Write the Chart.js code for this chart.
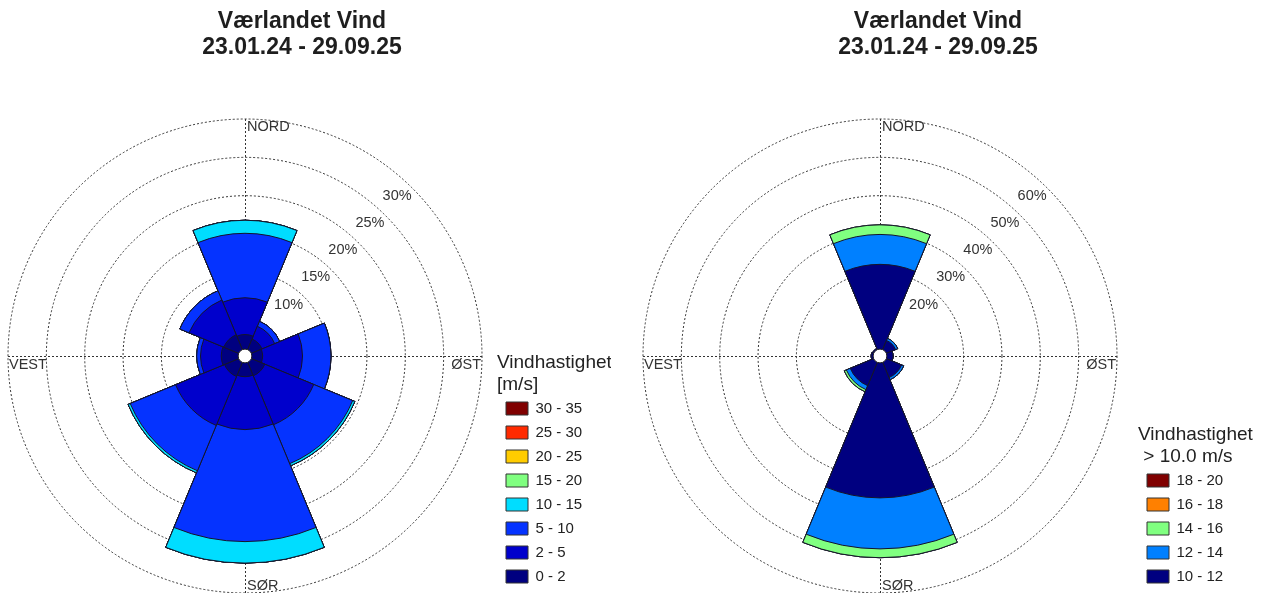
<!DOCTYPE html>
<html>
<head>
<meta charset="utf-8">
<script src="https://cdn.jsdelivr.net/npm/chart.js"></script>
<style>
  html, body { margin: 0; padding: 0; background: #fff; overflow: hidden; }
  body { width: 1267px; height: 593px; position: relative; }
  canvas { position: absolute; top: 0; }
  #roseAll { left: -7px; }
  #roseHigh { left: 622px; }
</style>
</head>
<body>
<canvas id="roseAll" width="630" height="593"></canvas>
<canvas id="roseHigh" width="645" height="593"></canvas>
<script>
const directions = ['N', 'NØ', 'Ø', 'SØ', 'S', 'SV', 'V', 'NV'];
const compass = ['NORD', 'ØST', 'SØR', 'VEST'];
const chartTitle = ['Værlandet Vind', '23.01.24 - 29.09.25'];

// left rose: all winds, % of time per direction and speed class
const allClasses = ['0 - 2', '2 - 5', '5 - 10', '10 - 15', '15 - 20', '20 - 25', '25 - 30', '30 - 35'];
const all0to2   = [1.9, 1.5, 1.4, 1.9, 1.8, 2.0, 2.2, 2.1];
const all2to5   = [4.8, 1.8, 5.2, 6.9, 6.9, 6.9, 2.7, 4.9];
const all5to10  = [8.4, 0.7, 3.7, 5.5, 14.6, 6.4, 0.5, 1.3];
const all10to15 = [1.7, 0, 0, 0.3, 2.8, 0.3, 0, 0];
const all15to20 = [0, 0, 0, 0, 0, 0, 0, 0];
const all20to25 = [0, 0, 0, 0, 0, 0, 0, 0];
const all25to30 = [0, 0, 0, 0, 0, 0, 0, 0];
const all30to35 = [0, 0, 0, 0, 0, 0, 0, 0];
const allTicks = [10, 15, 20, 25, 30];

// right rose: only wind above 10 m/s
const highClasses = ['10 - 12', '12 - 14', '14 - 16', '16 - 18', '18 - 20'];
const high10to12 = [22.1, 2.6, 1.6, 4.3, 35.2, 6.6, 0.5, 0.3];
const high12to14 = [7.8, 0.6, 0, 0.6, 13.3, 1.1, 0, 0];
const high14to16 = [2.5, 0, 0, 0, 2.3, 0.6, 0, 0];
const high16to18 = [0, 0, 0, 0, 0, 0, 0, 0];
const high18to20 = [0, 0, 0, 0, 0, 0, 0, 0];
const highTicks = [20, 30, 40, 50, 60];

const allColors = ['#000080', '#0000CC', '#0533FF', '#00DDFF', '#80FF80', '#FFCC00', '#FF2A00', '#800000'];
const highColors = ['#000080', '#0080FF', '#80FF80', '#FF8000', '#800000'];

Chart.defaults.font.family = "'Liberation Sans', Arial, sans-serif";
Chart.defaults.color = '#222';

// running sums so each class sits on top of the slower ones
function stack(series) {
  let run = series[0].map(() => 0);
  return series.map(s => run = run.map((v, i) => v + s[i]));
}

// compass cross, centre hole, ring labels, compass names
const roseDecor = {
  id: 'roseDecor',
  afterInit(chart, args, opts) {
    const fit = chart.legend.fit;
    chart.legend.fit = function() {
      fit.call(this);
      this.width = opts.legendWidth;
    };
  },
  beforeDatasetsDraw(chart) {
    const s = chart.scales.r, ctx = chart.ctx;
    const R = s.drawingArea, x = s.xCenter, y = s.yCenter;
    ctx.save();
    ctx.strokeStyle = '#333';
    ctx.lineWidth = 1;
    ctx.setLineDash([2, 2]);
    ctx.beginPath();
    ctx.moveTo(x - R, y + 0.5); ctx.lineTo(x + R, y + 0.5);
    ctx.moveTo(x + 0.5, y - R); ctx.lineTo(x + 0.5, y + R);
    ctx.stroke();
    ctx.restore();
  },
  afterDatasetsDraw(chart, args, opts) {
    const s = chart.scales.r, ctx = chart.ctx;
    const R = s.drawingArea, x = s.xCenter, y = s.yCenter;
    ctx.save();
    ctx.fillStyle = '#fff';
    ctx.strokeStyle = '#1a1a1a';
    ctx.lineWidth = 1;
    ctx.beginPath();
    ctx.arc(x, y, s.getDistanceFromCenterForValue(0), 0, Math.PI * 2);
    ctx.fill();
    ctx.stroke();

    ctx.fillStyle = '#333';
    ctx.font = "14.5px 'Liberation Sans', Arial, sans-serif";
    ctx.textAlign = 'center';
    ctx.textBaseline = 'middle';
    opts.ticks.forEach(v => {
      const r = s.getDistanceFromCenterForValue(v);
      ctx.fillText(v + '%', x + r * Math.SQRT1_2 - 15.5, y - r * Math.SQRT1_2 + 7.7);
    });

    ctx.textAlign = 'left'; ctx.textBaseline = 'top';
    ctx.fillText(compass[0], x + 2, y - R + 1);
    ctx.textAlign = 'right';
    ctx.fillText(compass[1], x + R - 1, y + 1.5);
    ctx.textAlign = 'left'; ctx.textBaseline = 'alphabetic';
    ctx.fillText(compass[2], x + 2, y + R - 3.5);
    ctx.textBaseline = 'top';
    ctx.fillText(compass[3], x - R + 1, y + 1.5);
    ctx.restore();
  }
};

function makeRose(id, classes, series, colors, ticks, legendTitle, min, max, legendWidth, padRight) {
  const sums = stack(series);
  return new Chart(document.getElementById(id), {
    type: 'polarArea',
    data: {
      labels: directions,
      datasets: classes.map((c, k) => ({
        label: c,
        data: sums[k],
        backgroundColor: colors[k],
        borderColor: '#15152a',
        borderWidth: 1
      }))
    },
    plugins: [roseDecor],
    options: {
      responsive: false,
      animation: false,
      events: [],
      layout: { padding: { left: 0, right: padRight, top: 0, bottom: 0 } },
      scales: {
        r: {
          min: min,
          max: max,
          startAngle: -22.5,
          ticks: { display: false, stepSize: 5 },
          afterBuildTicks: scale => { scale.ticks = ticks.map(v => ({ value: v })); },
          grid: { circular: true, color: '#333', lineWidth: 1, borderDash: [2, 2] },
          border: { dash: [2, 2] },
          angleLines: { display: false },
          pointLabels: { display: false }
        }
      },
      plugins: {
        roseDecor: { ticks: ticks, legendWidth: legendWidth },
        tooltip: { enabled: false },
        title: {
          display: true,
          text: chartTitle,
          color: '#1e1e1e',
          font: { size: 23, weight: 'bold', lineHeight: 26 / 23 },
          padding: { top: 9, bottom: 58 }
        },
        legend: {
          position: 'right',
          align: 'end',
          reverse: true,
          title: {
            display: true,
            text: legendTitle,
            position: 'start',
            color: '#222',
            font: { size: 19, lineHeight: 22 / 19 },
            padding: { top: 0, bottom: 16.5 }
          },
          labels: {
            boxWidth: 22,
            boxHeight: 13,
            padding: 9,
            color: '#222',
            font: { size: 15 },
            generateLabels: chart => chart.data.datasets.map((d, i) => ({
              text: d.label,
              fillStyle: d.backgroundColor,
              strokeStyle: '#333',
              lineWidth: 1,
              hidden: false,
              datasetIndex: i
            }))
          }
        }
      }
    }
  });
}

makeRose('roseAll', allClasses,
  [all0to2, all2to5, all5to10, all10to15, all15to20, all20to25, all25to30, all30to35],
  allColors, allTicks, ['Vindhastighet', '[m/s]'], -0.9, 30, 114, 12);

makeRose('roseHigh', highClasses,
  [high10to12, high12to14, high14to16, high16to18, high18to20],
  highColors, highTicks, ['Vindhastighet', ' > 10.0 m/s'], -1.8, 60, 116, 13);
</script>
</body>
</html>
